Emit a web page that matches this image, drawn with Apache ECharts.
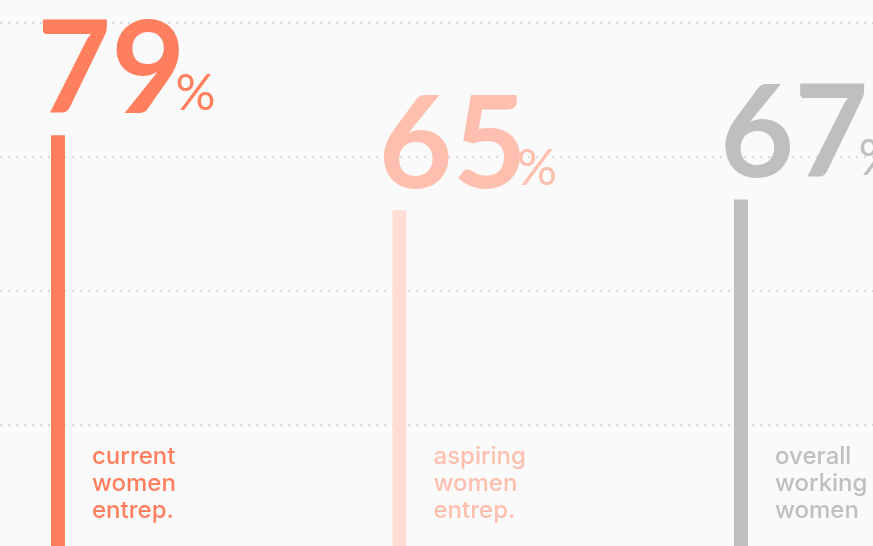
<!DOCTYPE html>
<html>
<head>
<meta charset="utf-8">
<script src="https://cdn.jsdelivr.net/npm/echarts@6/dist/echarts.min.js"></script>
<style>
html,body{margin:0;padding:0;background:#fafafa;overflow:hidden;width:873px;height:546px;}
#c{width:873px;height:558px;}
</style>
</head>
<body>
<div id="c"></div>
<script>
var categories = ['current\nwomen\nentrep.', 'aspiring\nwomen\nentrep.', 'overall\nworking\nwomen'];
var values = [79, 65, 67];
var barColors = ['#ff7f5f', '#ffddd4', '#bfbfbf'];
var numColors = ['#ff7f5f', '#ffbfaf', '#bfbfbf'];
var yTicks = [0, 25, 50, 75, 100];

var chart = echarts.init(document.getElementById('c'), null, {renderer: 'canvas'});
var yBase = {
  type: 'value',
  min: yTicks[0],
  max: yTicks[yTicks.length - 1],
  interval: 25,
  axisLine: {show: false},
  axisTick: {show: false},
  axisLabel: {show: false}
};
var option = {
  backgroundColor: '#fafafa',
  animation: false,
  grid: [
    {left: 58, right: 132, top: 23, bottom: 0, containLabel: false},
    {left: 0, right: 0, top: 23, bottom: 0, containLabel: false}
  ],
  xAxis: [{
    type: 'category',
    gridIndex: 0,
    data: categories,
    boundaryGap: false,
    axisLine: {show: false},
    axisTick: {show: false},
    splitLine: {show: false},
    axisLabel: {
      inside: true,
      interval: 0,
      margin: 34,
      align: 'left',
      padding: [0, 0, 0, 34],
      fontFamily: 'Inter',
      fontWeight: 500,
      fontSize: 24,
      lineHeight: 27,
      color: function (v, i) { return numColors[i]; }
    }
  }, {
    type: 'value',
    gridIndex: 1,
    show: false
  }],
  yAxis: [
    Object.assign({}, yBase, {gridIndex: 0, splitLine: {show: false}}),
    Object.assign({}, yBase, {gridIndex: 1, splitLine: {show: true, lineStyle: {color: '#d9d9d9', width: 2, type: [2, 6]}}})
  ],
  series: [{
    type: 'bar',
    xAxisIndex: 0,
    yAxisIndex: 0,
    barWidth: 14,
    z: 3,
    data: values.map(function (v, i) {
      return {
        value: v,
        itemStyle: {color: barColors[i]},
        label: {
          rich: {
            n: {color: numColors[i]},
            p: {color: numColors[i]}
          }
        }
      };
    }),
    label: {
      show: true,
      position: 'top',
      align: 'left',
      distance: 0,
      offset: [-21, 0],
      formatter: function (p) { return '{n|' + p.value + '}{p|%}'; },
      rich: {
        n: {fontFamily: 'Lato', fontWeight: 700, fontSize: 128, lineHeight: 128, verticalAlign: 'bottom'},
        p: {fontFamily: 'Lato', fontWeight: 400, fontSize: 50, lineHeight: 50, verticalAlign: 'bottom', padding: [0, 0, 16, -10]}
      }
    }
  }]
};
chart.setOption(option);
</script>
</body>
</html>
